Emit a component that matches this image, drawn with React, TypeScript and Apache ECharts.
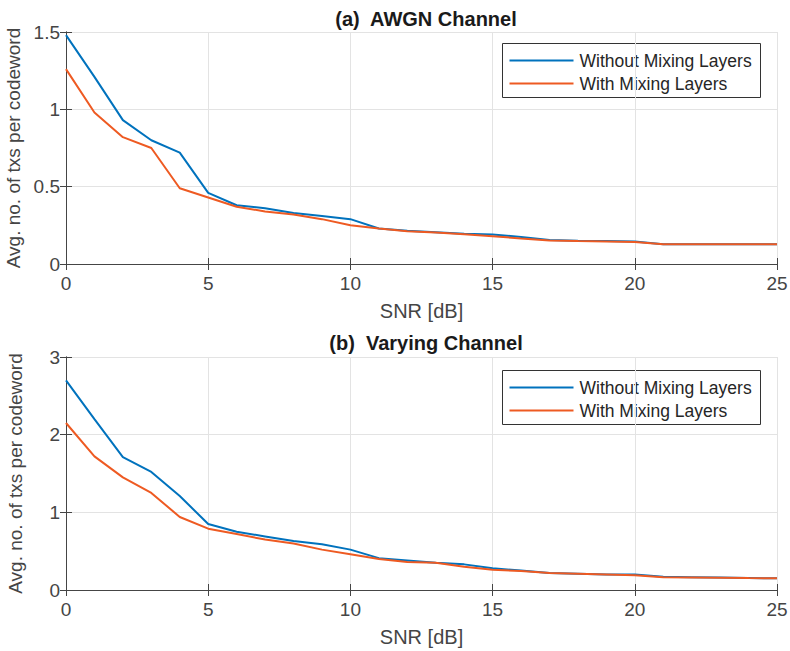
import React, { useEffect, useRef } from "react";
import * as echarts from "echarts";

const snr = [0, 1, 2, 3, 4, 5, 6, 7, 8, 9, 10, 11, 12, 13, 14, 15, 16, 17, 18, 19, 20, 21, 22, 23, 24, 25];

const awgnWithout = [1.48, 1.21, 0.93, 0.80, 0.72, 0.46, 0.38, 0.36, 0.33, 0.31, 0.29, 0.23, 0.215, 0.205, 0.195, 0.19, 0.175, 0.155, 0.15, 0.148, 0.145, 0.128, 0.128, 0.128, 0.128, 0.128];
const awgnWith = [1.26, 0.98, 0.82, 0.75, 0.49, 0.43, 0.37, 0.34, 0.32, 0.29, 0.25, 0.23, 0.212, 0.203, 0.193, 0.18, 0.165, 0.152, 0.148, 0.146, 0.143, 0.127, 0.127, 0.127, 0.127, 0.127];

const varyWithout = [2.70, 2.20, 1.71, 1.52, 1.21, 0.85, 0.75, 0.69, 0.63, 0.59, 0.52, 0.41, 0.38, 0.35, 0.33, 0.28, 0.25, 0.22, 0.21, 0.2, 0.2, 0.17, 0.165, 0.16, 0.155, 0.15];
const varyWith = [2.15, 1.72, 1.45, 1.25, 0.94, 0.79, 0.72, 0.65, 0.60, 0.52, 0.46, 0.40, 0.36, 0.35, 0.30, 0.26, 0.245, 0.22, 0.21, 0.2, 0.19, 0.165, 0.162, 0.158, 0.153, 0.15];

const seriesNames = ["Without Mixing Layers", "With Mixing Layers"];
const titles = ["(a)  AWGN Channel", "(b)  Varying Channel"];
const xLabel = "SNR [dB]";
const yLabel = "Avg. no. of txs per codeword";
const yMax = [1.5, 3];
const yInterval = [0.5, 1];

const BLUE = "#0072BD";
const ORANGE = "#EE5A22";
const FONT = "Liberation Sans";
const AX = "#454545";

export default function App() {
  const ref = useRef<HTMLDivElement>(null);
  useEffect(() => {
    if (!ref.current) return;
    const chart = echarts.init(ref.current, null, { renderer: "svg" });
    const grids = [
      { left: 66, right: 13, top: 32, height: 232 },
      { left: 66, right: 13, top: 357, height: 233 },
    ];
    const xAxes: any[] = [];
    const yAxes: any[] = [];
    grids.forEach((g, i) => {
      xAxes.push({
        type: "value",
        gridIndex: i,
        min: 0,
        max: 25,
        interval: 5,
        position: "bottom",
        name: xLabel,
        nameLocation: "middle",
        nameGap: 37,
        nameTextStyle: { fontFamily: FONT, fontSize: 20, color: AX },
        axisLine: { show: true, lineStyle: { color: AX, width: 1 } },
        axisTick: { show: true, inside: true, length: 6, lineStyle: { color: AX } },
        axisLabel: { fontFamily: FONT, fontSize: 19, color: AX, margin: 10 },
        splitLine: { show: true, lineStyle: { color: "#e3e3e3", width: 1 } },
      });
      xAxes.push({
        type: "value",
        gridIndex: i,
        min: 0,
        max: 25,
        interval: 5,
        position: "top",
        axisLine: { show: true, lineStyle: { color: AX, width: 1 } },
        axisTick: { show: true, inside: true, length: 6, lineStyle: { color: AX } },
        axisLabel: { show: false },
        splitLine: { show: false },
      });
      yAxes.push({
        type: "value",
        gridIndex: i,
        min: 0,
        max: yMax[i],
        interval: yInterval[i],
        position: "left",
        name: yLabel,
        nameLocation: "middle",
        nameGap: 41,
        nameTextStyle: { fontFamily: FONT, fontSize: 19, color: AX },
        axisLine: { show: true, lineStyle: { color: AX, width: 1 } },
        axisTick: { show: true, inside: true, length: 6, lineStyle: { color: AX } },
        axisLabel: { fontFamily: FONT, fontSize: 19, color: AX, margin: 6 },
        splitLine: { show: true, lineStyle: { color: "#e3e3e3", width: 1 } },
      });
      yAxes.push({
        type: "value",
        gridIndex: i,
        min: 0,
        max: yMax[i],
        interval: yInterval[i],
        position: "right",
        axisLine: { show: true, lineStyle: { color: AX, width: 1 } },
        axisTick: { show: true, inside: true, length: 6, lineStyle: { color: AX } },
        axisLabel: { show: false },
        splitLine: { show: false },
      });
    });
    const pairs = [
      [awgnWithout, awgnWith],
      [varyWithout, varyWith],
    ];
    const series: any[] = [];
    pairs.forEach((p, i) => {
      p.forEach((vals, j) => {
        series.push({
          type: "line",
          name: seriesNames[j],
          xAxisIndex: i * 2,
          yAxisIndex: i * 2,
          data: snr.map((x, k) => [x, vals[k]]),
          showSymbol: false,
          symbol: "none",
          lineStyle: { color: j === 0 ? BLUE : ORANGE, width: 2 },
          itemStyle: { color: j === 0 ? BLUE : ORANGE },
          z: j === 0 ? 2 : 3,
        });
      });
    });

    const legendBox = (top: number) => ({
      type: "group",
      left: 502,
      top,
      children: [
        { type: "rect", shape: { x: 0, y: 0, width: 258, height: 54 }, style: { fill: "#fff", stroke: "#333", lineWidth: 1 } },
        { type: "line", shape: { x1: 7, y1: 17, x2: 71, y2: 17 }, style: { stroke: BLUE, lineWidth: 2 } },
        { type: "text", x: 77, y: 17, style: { text: seriesNames[0], fontFamily: FONT, fontSize: 17.5, fill: "#262626", verticalAlign: "middle" } },
        { type: "line", shape: { x1: 7, y1: 40, x2: 71, y2: 40 }, style: { stroke: ORANGE, lineWidth: 2 } },
        { type: "text", x: 77, y: 40, style: { text: seriesNames[1], fontFamily: FONT, fontSize: 17.5, fill: "#262626", verticalAlign: "middle" } },
      ],
    });

    chart.setOption({
      animation: false,
      backgroundColor: "#fff",
      title: titles.map((t, i) => ({
        text: t,
        left: 421,
        textAlign: "center",
        top: i === 0 ? 4 : 328,
        textStyle: { fontFamily: FONT, fontSize: 20, fontWeight: "bold", color: "#1a1a1a" },
      })),
      grid: grids.map((g) => ({ ...g, show: false, containLabel: false, outerBoundsMode: "none" })),
      xAxis: xAxes,
      yAxis: yAxes,
      series,
      graphic: [legendBox(43), legendBox(370)],
    });
    return () => chart.dispose();
  }, []);
  return <div ref={ref} style={{ width: 790, height: 651, position: "absolute", left: 0, top: 0 }} />;
}
